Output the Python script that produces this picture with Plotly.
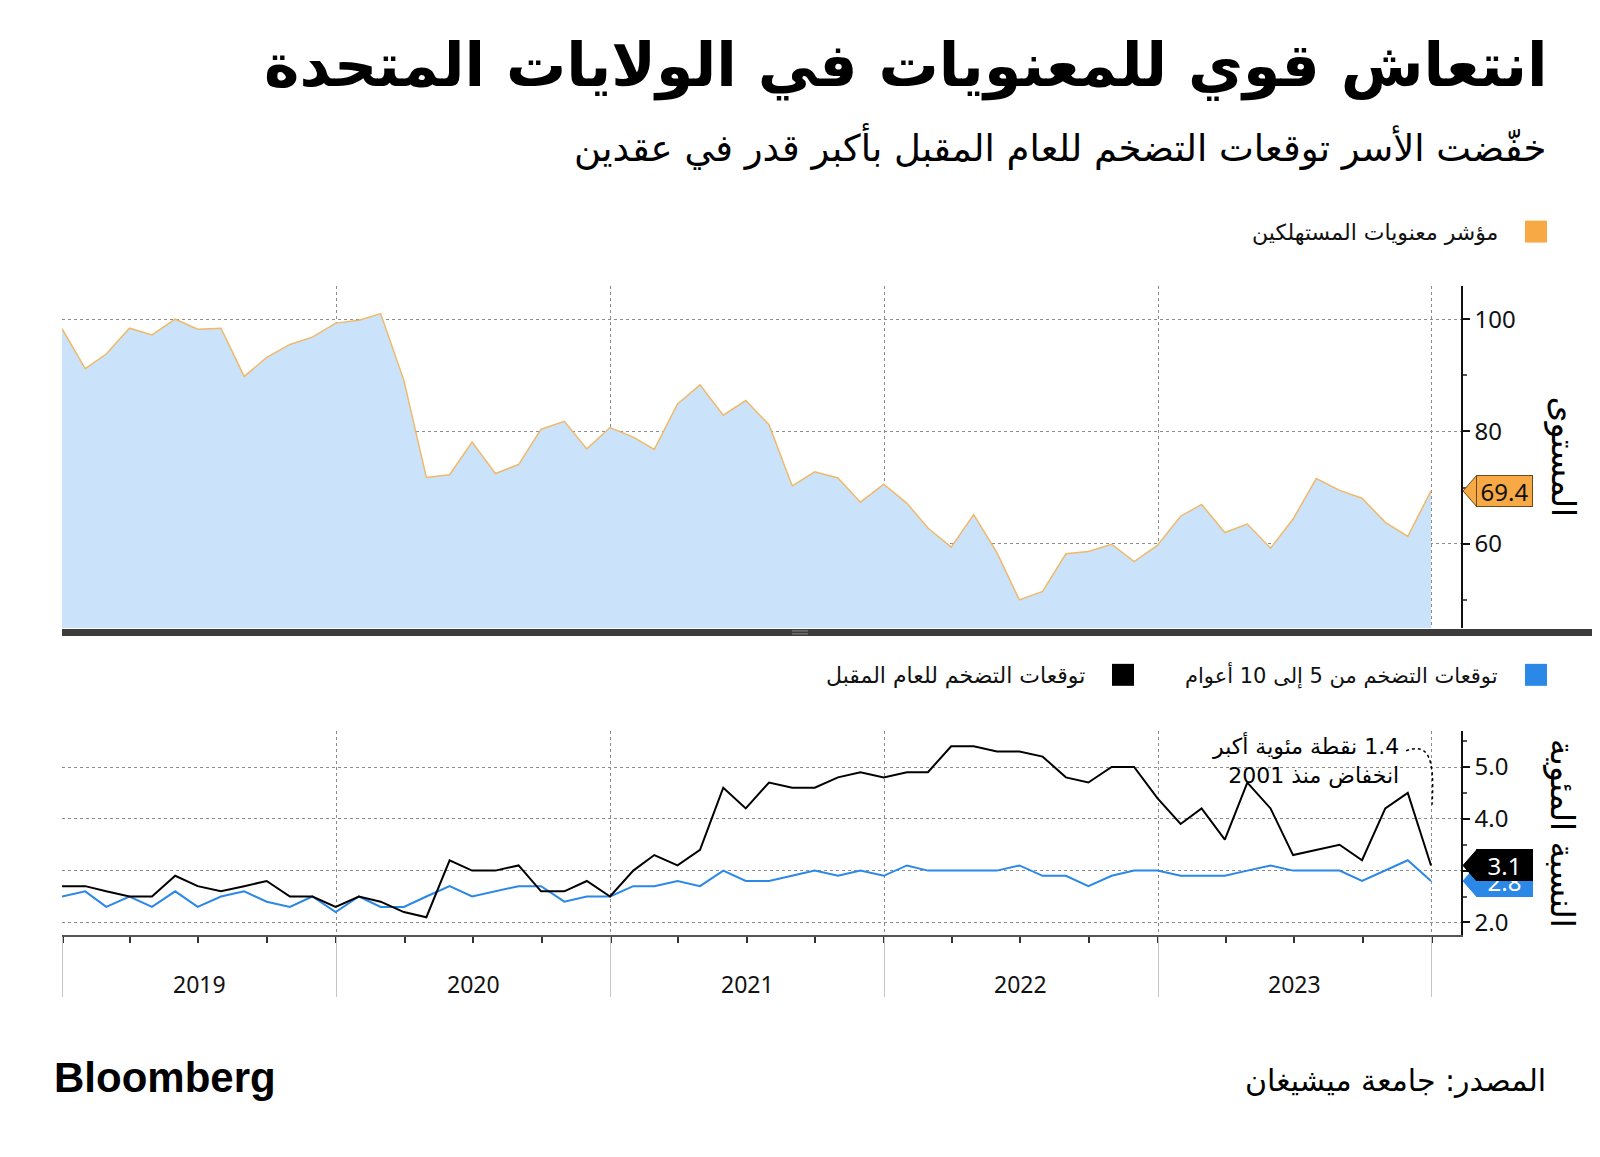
import pandas as pd
import plotly.graph_objects as go

# page is 1600x1157; the html body has an 8px margin, so the figure is made
# 16px smaller and all positions below are given in window pixels.
PAGE_OFF = 8
W, H = 1600 - 2 * PAGE_OFF, 1157 - 2 * PAGE_OFF

# ---------------- data ----------------
months = pd.date_range("2018-12-31", periods=61, freq=pd.offsets.MonthEnd())

sentiment = [98.3,
             91.2, 93.8, 98.4, 97.2, 100.0, 98.2, 98.4, 89.8, 93.2, 95.5, 96.8, 99.3,
             99.8, 101.0, 89.1, 71.8, 72.3, 78.1, 72.5, 74.1, 80.4, 81.8, 76.9, 80.7,
             79.0, 76.8, 84.9, 88.3, 82.9, 85.5, 81.2, 70.3, 72.8, 71.7, 67.4, 70.6,
             67.2, 62.8, 59.4, 65.2, 58.4, 50.0, 51.5, 58.2, 58.6, 59.9, 56.8, 59.7,
             64.9, 67.0, 62.0, 63.5, 59.2, 64.4, 71.6, 69.5, 68.1, 63.8, 61.3, 69.4]

expect_1y = [2.7,
             2.7, 2.6, 2.5, 2.5, 2.9, 2.7, 2.6, 2.7, 2.8, 2.5, 2.5, 2.3,
             2.5, 2.4, 2.2, 2.1, 3.2, 3.0, 3.0, 3.1, 2.6, 2.6, 2.8, 2.5,
             3.0, 3.3, 3.1, 3.4, 4.6, 4.2, 4.7, 4.6, 4.6, 4.8, 4.9, 4.8,
             4.9, 4.9, 5.4, 5.4, 5.3, 5.3, 5.2, 4.8, 4.7, 5.0, 5.0, 4.4,
             3.9, 4.2, 3.6, 4.7, 4.2, 3.3, 3.4, 3.5, 3.2, 4.2, 4.5, 3.1]

expect_5_10y = [2.5,
                2.6, 2.3, 2.5, 2.3, 2.6, 2.3, 2.5, 2.6, 2.4, 2.3, 2.5, 2.2,
                2.5, 2.3, 2.3, 2.5, 2.7, 2.5, 2.6, 2.7, 2.7, 2.4, 2.5, 2.5,
                2.7, 2.7, 2.8, 2.7, 3.0, 2.8, 2.8, 2.9, 3.0, 2.9, 3.0, 2.9,
                3.1, 3.0, 3.0, 3.0, 3.0, 3.1, 2.9, 2.9, 2.7, 2.9, 3.0, 3.0,
                2.9, 2.9, 2.9, 3.0, 3.1, 3.0, 3.0, 3.0, 2.8, 3.0, 3.2, 2.8]

years = [2019, 2020, 2021, 2022, 2023]
year_edges = [f"{y}-01-01" for y in range(2019, 2025)]
top_ticks = [60, 80, 100]
low_ticks = [2, 3, 4, 5]
low_ticktext = ["2.0", "3.0", "4.0", "5.0"]

title = "انتعاش قوي للمعنويات في الولايات المتحدة"
subtitle = "خفّضت الأسر توقعات التضخم للعام المقبل بأكبر قدر في عقدين"
name_sent = "مؤشر معنويات المستهلكين"
name_510 = "توقعات التضخم من 5 إلى 10 أعوام"
name_1y = "توقعات التضخم للعام المقبل"
ytitle_top = "المستوى"
ytitle_low = "النسبة المئوية"
note_lines = ["1.4 نقطة مئوية أكبر", "انخفاض منذ 2001"]
source = "المصدر: جامعة ميشيغان"

# ---------------- style ----------------
ORANGE = "#f7a945"
FILL = "#cae3fb"
BLUE = "#2b88e6"
BLACK = "#000000"
GRID = "#8c8c8c"
AR = "DejaVu Sans"
NUM = "Noto Sans, DejaVu Sans"

RLE, PDF = "\u202b", "\u202c"


def rtl(s):
    return RLE + s + PDF


def px(x):
    return (x - PAGE_OFF) / W


def py(y):
    return 1 - (y - PAGE_OFF) / H


X0, X1 = 62, 1461
x_range = ["2018-12-31", "2024-02-09"]
top_dom = [py(629), py(286)]
low_dom = [py(937), py(732)]
top_range = [45, 106]
low_range = [1.75, 5.7]

fig = go.Figure()
fig.add_trace(go.Scatter(x=months, y=sentiment, mode="lines", fill="tozeroy",
                         fillcolor=FILL, line=dict(color="#f0b96a", width=1.5),
                         xaxis="x", yaxis="y", showlegend=False))
fig.add_trace(go.Scatter(x=months, y=expect_5_10y, mode="lines",
                         line=dict(color=BLUE, width=2), xaxis="x2", yaxis="y2",
                         showlegend=False))
fig.add_trace(go.Scatter(x=months, y=expect_1y, mode="lines",
                         line=dict(color=BLACK, width=2), xaxis="x2", yaxis="y2",
                         showlegend=False))

common_x = dict(type="date", range=x_range, domain=[px(X0), px(X1)],
                tickmode="array", tickvals=year_edges, showgrid=True,
                gridcolor=GRID, griddash="dot", gridwidth=1, zeroline=False)

fig.update_layout(
    width=W, height=H, margin=dict(l=0, r=0, t=0, b=0),
    paper_bgcolor="white", plot_bgcolor="white",
    xaxis=dict(**common_x, anchor="y", showticklabels=False, ticks="", showline=False),
    yaxis=dict(domain=top_dom, range=top_range, side="right", anchor="x",
               tickmode="array", tickvals=top_ticks, showgrid=True, gridcolor=GRID,
               griddash="dot", zeroline=False, showline=True, linecolor="#111",
               linewidth=1.5, ticks="outside", ticklen=7, tickwidth=2, tickcolor="#111",
               tickfont=dict(family=NUM, size=24, color="#111"),
               minor=dict(dtick=10, tick0=0, ticks="outside", ticklen=4,
                          tickcolor="#555", showgrid=False)),
    xaxis2=dict(**common_x, anchor="y2", ticktext=[""] * len(year_edges),
                ticks="outside", ticklen=60, tickcolor="#c4c4c4", tickwidth=1,
                showline=True, linecolor="#555", linewidth=2,
                minor=dict(dtick="M3", tick0="2019-01-01", ticks="outside",
                           ticklen=6, tickcolor="#333", tickwidth=1.5, showgrid=False)),
    yaxis2=dict(domain=low_dom, range=low_range, side="right", anchor="x2",
                tickmode="array", tickvals=low_ticks, ticktext=low_ticktext,
                showgrid=True, gridcolor=GRID, griddash="dot", zeroline=False,
                showline=True, linecolor="#111", linewidth=1.5, ticks="outside",
                ticklen=7, tickwidth=2, tickcolor="#111",
                tickfont=dict(family=NUM, size=24, color="#111"),
                minor=dict(dtick=0.5, tick0=0, ticks="outside", ticklen=4,
                           tickcolor="#555", showgrid=False)),
)

ann = []
shapes = []

# title / subtitle
ann.append(dict(text="<b>" + rtl(title) + "</b>", x=px(1550), y=py(66), xref="paper", yref="paper",
                xanchor="right", yanchor="middle", showarrow=False,
                font=dict(family=AR, size=60, color="#000")))
ann.append(dict(text=rtl(subtitle), x=px(1548), y=py(147), xref="paper", yref="paper",
                xanchor="right", yanchor="middle", showarrow=False,
                font=dict(family=AR, size=37, color="#000")))


# legends
def legend_item(x_sq, y_c, color, label, size):
    shapes.append(dict(type="rect", xref="paper", yref="paper",
                       x0=px(x_sq - 11), x1=px(x_sq + 11), y0=py(y_c + 11), y1=py(y_c - 11),
                       fillcolor=color, line=dict(width=0)))
    ann.append(dict(text=rtl(label), x=px(x_sq - 36), y=py(y_c + 1), xref="paper", yref="paper",
                    xanchor="right", yanchor="middle", showarrow=False,
                    font=dict(family=AR, size=size, color="#111")))


legend_item(1536, 232, ORANGE, name_sent, 22)
legend_item(1536, 676, BLUE, name_510, 21)
legend_item(1123, 676, BLACK, name_1y, 22)

# rotated axis titles
ann.append(dict(text=rtl(ytitle_top), x=px(1563), y=(top_dom[0] + top_dom[1]) / 2,
                xref="paper", yref="paper", textangle=90, showarrow=False,
                xanchor="center", yanchor="middle", font=dict(family=AR, size=33, color="#000")))
ann.append(dict(text=rtl(ytitle_low), x=px(1563), y=(low_dom[0] + low_dom[1]) / 2,
                xref="paper", yref="paper", textangle=90, showarrow=False,
                xanchor="center", yanchor="middle", font=dict(family=AR, size=33, color="#000")))

# year labels
for yv in years:
    ann.append(dict(text=str(yv), x=f"{yv}-07-02", xref="x2", y=py(986), yref="paper",
                    showarrow=False, xanchor="center", yanchor="middle",
                    font=dict(family=NUM, size=23, color="#111")))

# separator bar
shapes.append(dict(type="rect", xref="paper", yref="paper", x0=px(62), x1=1,
                   y0=py(637), y1=py(630), fillcolor="#3c3c3c", line=dict(width=0), layer="above"))
for dy in (632, 635):
    shapes.append(dict(type="line", xref="paper", yref="paper", x0=px(792), x1=px(808),
                       y0=py(dy), y1=py(dy), line=dict(color="#8a8a8a", width=1), layer="above"))


# value tags
def tag(yref, value, bg, fg, unit_px, border):
    h = 16 / unit_px
    shapes.append(dict(type="path", xref="paper", yref=yref,
                       path=f"M {px(1463)},{value} L {px(1477)},{value + h} L {px(1477)},{value - h} Z",
                       fillcolor=bg, line=dict(color=border, width=1), layer="above"))
    ann.append(dict(text=f"{value:.1f}", x=px(1476), y=value, xref="paper", yref=yref,
                    xanchor="left", yanchor="middle", showarrow=False, bgcolor=bg,
                    bordercolor=border, borderwidth=1, borderpad=0, width=55, height=30,
                    font=dict(family=NUM, size=24, color=fg)))


tag("y", sentiment[-1], ORANGE, "#111", 343 / (top_range[1] - top_range[0]), "#6b4a1a")
tag("y2", expect_5_10y[-1], BLUE, "#ffffff", 205 / (low_range[1] - low_range[0]), BLUE)
tag("y2", expect_1y[-1], BLACK, "#ffffff", 205 / (low_range[1] - low_range[0]), BLACK)

# note
ann.append(dict(text="<br>".join(rtl(s) for s in note_lines), x=px(1401), y=py(762),
                xref="paper", yref="paper", xanchor="right", yanchor="middle", align="right",
                showarrow=False, font=dict(family=AR, size=22, color="#000")))
shapes.append(dict(type="path", xref="paper", yref="paper",
                   path=(f"M {px(1406)},{py(752)} C {px(1428)},{py(744)} "
                         f"{px(1435)},{py(758)} {px(1432)},{py(806)}"),
                   line=dict(color="#000", width=1.5, dash="dot"), layer="above"))

# footer
ann.append(dict(text="<b>Bloomberg</b>", x=px(52), y=py(1079), xref="paper", yref="paper",
                xanchor="left", yanchor="middle", showarrow=False,
                font=dict(family="Liberation Sans", size=42, color="#000")))
ann.append(dict(text=rtl(source), x=px(1548), y=py(1082), xref="paper", yref="paper",
                xanchor="right", yanchor="middle", showarrow=False,
                font=dict(family=AR, size=30, color="#000")))

fig.update_layout(annotations=ann, shapes=shapes)
fig.write_html("out.html")
